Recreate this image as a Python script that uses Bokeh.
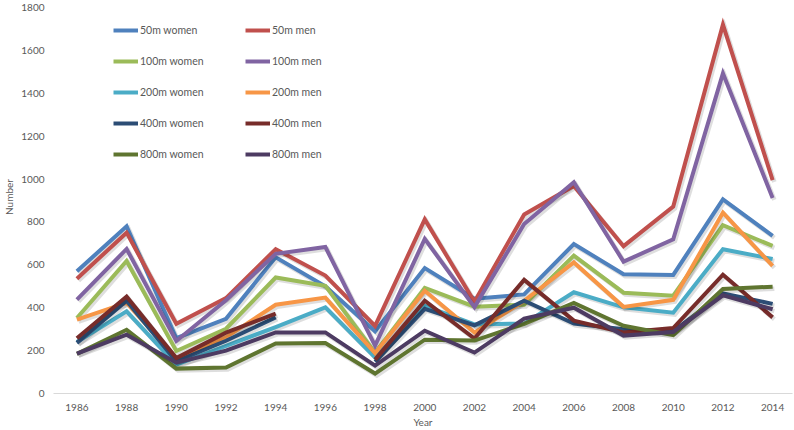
from bokeh.plotting import figure
from bokeh.models import Range1d, FixedTicker, Legend, LegendItem, ColumnDataSource
from bokeh.transform import dodge
from bokeh.embed import file_html
from bokeh.resources import INLINE

nan = float("nan")

years = [1986, 1988, 1990, 1992, 1994, 1996, 1998, 2000, 2002, 2004, 2006, 2008, 2010, 2012, 2014]
y_ticks = [0, 200, 400, 600, 800, 1000, 1200, 1400, 1600, 1800]

women_50m = [570, 780, 258, 348, 635, 500, 290, 585, 442, 462, 697, 556, 553, 905, 735]
men_50m = [535, 750, 325, 445, 673, 550, 315, 812, 428, 835, 968, 687, 872, 1720, 995]
women_100m = [352, 618, 198, 302, 541, 502, 190, 493, 405, 414, 643, 470, 456, 785, 688]
men_100m = [438, 674, 245, 435, 651, 683, 223, 721, 403, 790, 985, 615, 719, 1493, 912]
women_200m = [240, 383, 135, 222, 310, 402, 168, 409, 322, 326, 472, 402, 377, 673, 627]
men_200m = [344, 423, 165, 262, 414, 447, 188, 479, 284, 432, 611, 404, 437, 843, 595]
women_400m = [236, 433, 150, 246, 355, nan, 148, 395, 318, 433, 326, 300, 290, 467, 418]
men_400m = [258, 452, 165, 284, 372, nan, 158, 433, 256, 530, 340, 285, 305, 554, 355]
women_800m = [185, 297, 116, 121, 233, 235, 93, 251, 247, 325, 422, 316, 272, 487, 498]
men_800m = [186, 274, 144, 200, 285, 285, 130, 293, 191, 349, 400, 270, 287, 458, 393]

series_names = ["50m women", "50m men", "100m women", "100m men", "200m women",
                "200m men", "400m women", "400m men", "800m women", "800m men"]
series_values = [women_50m, men_50m, women_100m, men_100m, women_200m,
                 men_200m, women_400m, men_400m, women_800m, men_800m]
colors = ["#4F81BD", "#C0504D", "#9BBB59", "#8064A2", "#4BACC6",
          "#F79646", "#2C4D75", "#772C2A", "#5F7530", "#4D3B62"]

TXT = "#595959"

p = figure(width=794, height=430, output_backend="svg", toolbar_location=None,
           x_range=Range1d(1985.058, 2014.80), y_range=Range1d(0, 1832.6),
           min_border_left=50, min_border_right=2, min_border_top=0, min_border_bottom=37)
p.outline_line_color = None
p.grid.visible = False
p.background_fill_color = "white"
p.border_fill_color = "white"

p.xaxis.ticker = FixedTicker(ticks=years)
p.yaxis.ticker = FixedTicker(ticks=y_ticks)
for ax in (p.xaxis[0], p.yaxis[0]):
    ax.major_tick_line_color = None
    ax.minor_tick_line_color = None
    ax.major_label_text_font = "Lato"
    ax.major_label_text_font_size = "10px"
    ax.major_label_text_color = TXT
    ax.axis_label_text_font = "Lato"
    ax.axis_label_text_font_size = "10px"
    ax.axis_label_text_font_style = "normal"
    ax.axis_label_text_color = TXT
p.xaxis.axis_label = "Year"
p.yaxis.axis_label = "Number"
p.xaxis.axis_line_color = "#D9D9D9"
p.xaxis.axis_line_width = 1
p.yaxis.axis_line_color = None
p.xaxis.major_label_standoff = 4
p.xaxis.axis_label_standoff = 2
p.yaxis.major_label_standoff = 3
p.yaxis.axis_label_standoff = 3

renderers = []
for name, vals, col in zip(series_names, series_values, colors):
    src = ColumnDataSource(dict(x=years, y=vals))
    p.line(x=dodge("x", 0.07, range=p.x_range), y=dodge("y", -9.0, range=p.y_range),
           source=src, line_color="black", line_alpha=0.13, line_width=4.5,
           line_join="miter")
    r = p.line(x="x", y="y", source=src, line_color=col, line_width=4, line_join="miter")
    renderers.append(r)

def make_legend(idx, loc):
    lg = Legend(items=[LegendItem(label=series_names[i], renderers=[renderers[i]]) for i in idx],
                location=loc, orientation="vertical")
    lg.padding = 0
    lg.margin = 0
    lg.spacing = 19
    lg.glyph_width = 25
    lg.glyph_height = 12
    lg.label_height = 12
    lg.label_standoff = 2
    lg.border_line_color = None
    lg.background_fill_alpha = 0
    lg.label_text_font = "Lato"
    lg.label_text_font_size = "10.5px"
    lg.label_text_color = TXT
    return lg

p.add_layout(make_legend([0, 2, 4, 6, 8], (60, 233)))
p.add_layout(make_legend([1, 3, 5, 7, 9], (192, 233)))

open("out.html", "w").write(file_html(p, INLINE))
